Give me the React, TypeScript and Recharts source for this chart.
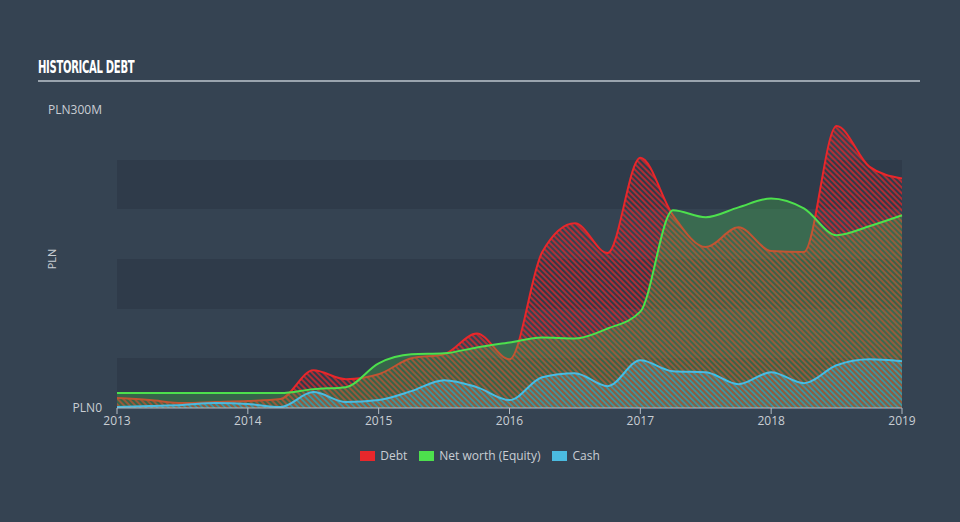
import React from "react";
import { AreaChart, Area, XAxis, YAxis, CartesianGrid } from "recharts";

// quarterly points, values in PLN millions
const PERIODS = [
  2013, 2013.25, 2013.5, 2013.75, 2014, 2014.25, 2014.5, 2014.75, 2015, 2015.25, 2015.5, 2015.75, 2016,
  2016.25, 2016.5, 2016.75, 2017, 2017.25, 2017.5, 2017.75, 2018, 2018.25, 2018.5, 2018.75, 2019,
];
const DEBT = [10, 8, 5, 6, 7, 9, 38, 29, 34, 50, 54, 75, 49, 157, 186, 156, 252, 194, 162, 182, 158, 157, 284, 243, 231];
const EQUITY = [15, 15, 15, 15, 15, 15, 19, 21, 45, 54, 55, 61, 66, 71, 70, 80, 97, 199, 192, 202, 211, 201, 174, 183, 194];
const CASH = [1, 2, 3, 5, 4, 1, 16, 6, 8, 17, 28, 21, 8, 31, 35, 22, 48, 37, 36, 24, 36, 25, 43, 49, 47];

const YEAR_TICKS = [2013, 2014, 2015, 2016, 2017, 2018, 2019];
const Y_TICKS = [0, 300];
const GRID_VALUES = [0, 50, 100, 150, 200, 250, 300];

const COLORS = {
  debt: "#e8272b",
  equity: "#4de04d",
  cash: "#4bbbe0",
  bg: "#354352",
  band: "#2f3b4a",
  text: "#c9ced4",
  axis: "#b4bcc4",
};

const SERIES = [
  { key: "debt", name: "Debt", color: COLORS.debt },
  { key: "equity", name: "Net worth (Equity)", color: COLORS.equity },
  { key: "cash", name: "Cash", color: COLORS.cash },
];

const data = PERIODS.map((year, i) => ({
  year,
  debt: DEBT[i],
  equity: EQUITY[i],
  cash: CASH[i],
}));

const FONT = "'Open Sans', 'DejaVu Sans', sans-serif";

function fmtY(v: number) {
  return v === 0 ? "PLN0" : `PLN${v}M`;
}

export default function App() {
  return (
    <div
      style={{
        position: "absolute",
        left: 0,
        top: 0,
        width: 960,
        height: 522,
        background: COLORS.bg,
        fontFamily: FONT,
        overflow: "hidden",
      }}
    >
      <div
        style={{
          position: "absolute",
          left: 38,
          top: 56,
          color: "#ffffff",
          fontFamily: "'DejaVu Sans Condensed', 'DejaVu Sans', sans-serif",
          fontWeight: 700,
          fontSize: 18,
          lineHeight: "22px",
          transform: "scaleX(0.62)",
          transformOrigin: "left center",
          whiteSpace: "nowrap",
          letterSpacing: -0.5,
        }}
      >
        HISTORICAL DEBT
      </div>
      <div
        style={{
          position: "absolute",
          left: 38,
          top: 80,
          width: 882,
          height: 2,
          background: "#9aa4ae",
        }}
      />

      <div style={{ position: "absolute", left: 0, top: 0 }}>
        <AreaChart width={960} height={522} data={data} margin={{ top: 110, right: 58, bottom: 84, left: 47 }}>
          <defs>
            <pattern id="hatchDebt" width="4" height="4" patternUnits="userSpaceOnUse" patternTransform="rotate(-45)">
              <rect x="0" y="0" width="2" height="4" fill={COLORS.debt} fillOpacity={0.7} />
            </pattern>
            <pattern id="hatchCash" width="4" height="4" patternUnits="userSpaceOnUse" patternTransform="rotate(-45)">
              <rect x="2" y="0" width="2" height="4" fill={COLORS.cash} fillOpacity={0.55} />
            </pattern>
          </defs>
          <CartesianGrid
            vertical={false}
            stroke="none"
            horizontalValues={GRID_VALUES}
            horizontalFill={["transparent", COLORS.band]}
          />
          <XAxis
            dataKey="year"
            type="number"
            domain={[2013, 2019]}
            ticks={YEAR_TICKS}
            tick={{ fill: COLORS.text, fontSize: 12, fontFamily: FONT }}
            axisLine={{ stroke: COLORS.axis }}
            tickLine={{ stroke: COLORS.axis }}
            tickSize={6}
            tickMargin={2}
          />
          <YAxis
            width={70}
            domain={[0, 300]}
            ticks={Y_TICKS}
            tickFormatter={fmtY}
            tick={{ fill: COLORS.text, fontSize: 12, fontFamily: FONT }}
            axisLine={false}
            tickLine={false}
            tickSize={6}
            tickMargin={9}
            label={{
              value: "PLN",
              angle: -90,
              position: "insideLeft",
              offset: 5,
              style: { fill: COLORS.text, fontSize: 11, fontFamily: FONT, textAnchor: "middle" },
            }}
          />
          <Area
            type="monotone"
            dataKey="debt"
            name="Debt"
            stroke={COLORS.debt}
            strokeWidth={2}
            fill="url(#hatchDebt)"
            fillOpacity={1}
            dot={false}
            activeDot={false}
            isAnimationActive={false}
          />
          <Area
            type="monotone"
            dataKey="equity"
            name="Net worth (Equity)"
            stroke={COLORS.equity}
            strokeWidth={2}
            fill={COLORS.equity}
            fillOpacity={0.25}
            dot={false}
            activeDot={false}
            isAnimationActive={false}
          />
          <Area
            type="monotone"
            dataKey="cash"
            name="Cash"
            stroke={COLORS.cash}
            strokeWidth={2}
            fill="url(#hatchCash)"
            fillOpacity={1}
            dot={false}
            activeDot={false}
            isAnimationActive={false}
          />
        </AreaChart>
      </div>

      <div
        style={{
          position: "absolute",
          left: 0,
          top: 447,
          width: 960,
          display: "flex",
          justifyContent: "center",
          gap: 12,
          fontSize: 12,
          color: COLORS.text,
        }}
      >
        {SERIES.map((s) => (
          <div key={s.key} style={{ display: "flex", alignItems: "center", gap: 5 }}>
            <span style={{ display: "inline-block", width: 15, height: 10, background: s.color }} />
            <span>{s.name}</span>
          </div>
        ))}
      </div>
    </div>
  );
}
